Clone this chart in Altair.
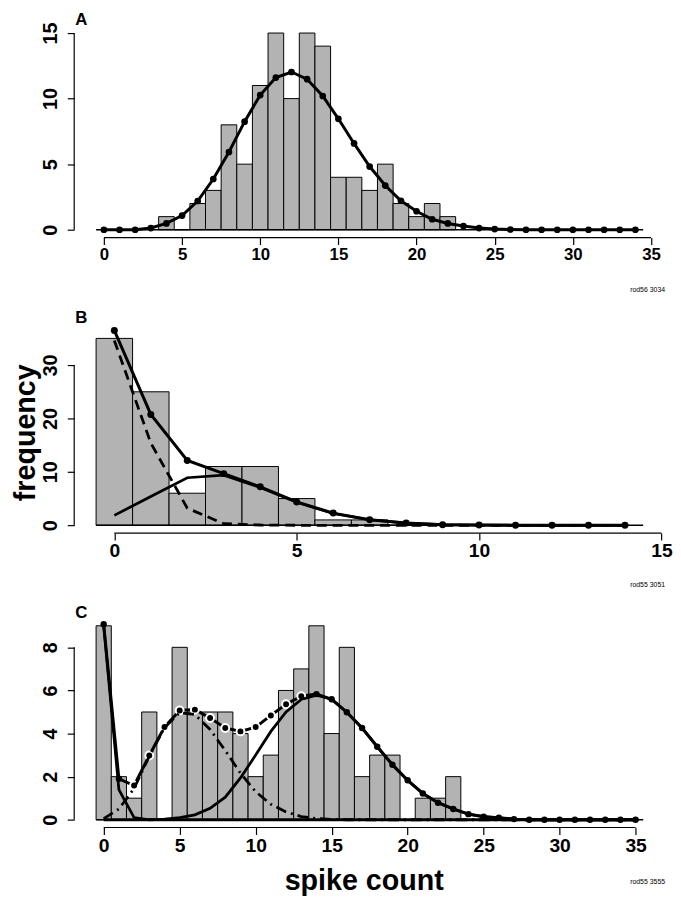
import altair as alt
import pandas as pd

FONT = "Liberation Sans"
BAR_FILL = "#b3b3b3"

# ---------------- Panel A ----------------
A_BINS = list(range(4, 23))
A_COUNTS = [1, 0, 2, 3, 8, 5, 11, 15, 10, 15, 14, 4, 4, 3, 5, 2, 1, 2, 1]
A_X = list(range(0, 35))
A_FIT = [0, 0, 0, 0.13, 0.48, 1.08, 2.19, 3.87, 5.93, 8.24,
         10.27, 11.6, 12.03, 11.48, 10.2, 8.46, 6.58, 4.82, 3.37, 2.21,
         1.41, 0.8, 0.48, 0.28, 0.13, 0.05, 0.02, 0, 0, 0,
         0, 0, 0, 0, 0]
A_XTICKS = [0, 5, 10, 15, 20, 25, 30, 35]
A_YTICKS = [0, 5, 10, 15]

# ---------------- Panel B ----------------
B_BINS = list(range(0, 9))
B_COUNTS = [35, 25, 6, 11, 11, 5, 1, 1, 0]
B_X = list(range(0, 15))
B_FIT = [36.5, 20.76, 12.14, 9.67, 7.2, 4.37, 2.28, 1.05, 0.43, 0.1, 0.03, 0, 0, 0, 0]
B_COMP1 = [34.6, 15.4, 3.2, 0.3, 0.05, 0, 0, 0, 0, 0, 0, 0, 0, 0, 0]
B_COMP2 = [1.85, 5.4, 8.9, 9.4, 7.1, 4.3, 2.2, 1.0, 0.4, 0.1, 0.03, 0, 0, 0, 0]
B_XTICKS = [0, 5, 10, 15]
B_YTICKS = [0, 10, 20, 30]

# ---------------- Panel C ----------------
C_BINS = list(range(0, 24))
C_COUNTS = [9, 2, 1, 5, 0, 8, 5, 5, 5, 4, 2, 3, 6, 7, 9, 4, 8, 2, 3, 3, 0, 1, 1, 2]
C_X = list(range(0, 36))
C_FIT = [9.07, 1.9, 1.59, 2.98, 4.3, 5.07, 5.11, 4.72, 4.26, 4.1,
         4.3, 4.84, 5.36, 5.73, 5.83, 5.59, 4.99, 4.26, 3.39, 2.55,
         1.83, 1.22, 0.79, 0.5, 0.26, 0.14, 0.09, 0.03, 0, 0,
         0, 0, 0, 0, 0, 0]
C_COMP1 = [9.0, 1.4, 0.1] + [0] * 33
C_COMP2 = [0.05, 0.5, 1.45, 2.95, 4.27, 4.97, 4.88, 4.19, 3.21, 2.16,
           1.3, 0.72, 0.36, 0.15, 0.06, 0.02] + [0] * 20
C_COMP3 = [0, 0, 0, 0, 0.03, 0.1, 0.23, 0.53, 1.05, 1.94,
           3.0, 4.1, 5.0, 5.58, 5.78, 5.59, 4.99, 4.26, 3.39, 2.55,
           1.83, 1.22, 0.79, 0.5, 0.26, 0.14, 0.09, 0.03] + [0] * 8
# points of the total fit in C drawn with a gap around them (R type="b")
C_GAP_RANGE = [2, 13]
C_XTICKS = [0, 5, 10, 15, 20, 25, 30, 35]
C_YTICKS = [0, 2, 4, 6, 8]

W = 598


def panel(letter, rod, bins, counts, xs, curves, xdom, ydom, xticks, yticks,
          h, xlab, ylab, x_title=None, y_title=None, dot_size=42, gap_range=None,
          rod_dy=53):
    xscale = alt.Scale(domain=xdom, nice=False, zero=False)
    yscale = alt.Scale(domain=ydom, nice=False, zero=False)
    xaxis_kw = dict(values=xticks, domain=False, grid=False, tickSize=7, tickColor="black",
                    tickWidth=1.2, labelFont=FONT, labelFontWeight="bold", labelFontSize=xlab,
                    labelColor="black", labelPadding=2, labelFlush=False, format="d")
    if x_title:
        xaxis_kw.update(title=x_title, titleFont=FONT, titleFontSize=29, titleFontWeight="bold",
                        titleColor="black", titlePadding=12, titleX=293, titleAlign="center")
    else:
        xaxis_kw.update(title=None)
    yaxis_kw = dict(values=yticks, domain=False, grid=False, tickSize=7, tickColor="black",
                    tickWidth=1.2, labelFont=FONT, labelFontWeight="bold", labelFontSize=ylab,
                    labelColor="black", labelPadding=7, labelAngle=270, labelAlign="center",
                    labelBaseline="bottom", labelFlush=False, format="d")
    if y_title:
        yaxis_kw.update(title=y_title, titleFont=FONT, titleFontSize=29, titleFontWeight="bold",
                        titleColor="black", titlePadding=0, titleY=111)
    else:
        yaxis_kw.update(title=None)
    xaxis = alt.Axis(**xaxis_kw)
    yaxis = alt.Axis(**yaxis_kw)

    def X(f):
        return alt.X(f, type="quantitative", scale=xscale, axis=xaxis)

    def Y(f):
        return alt.Y(f, type="quantitative", scale=yscale, axis=yaxis)

    bars_df = pd.DataFrame({"k": bins, "count": counts})
    bars = alt.Chart(bars_df).transform_calculate(
        x0="datum.k - 0.5", x1="datum.k + 0.5", zero="0"
    ).mark_bar(fill=BAR_FILL, stroke="black", strokeWidth=1).encode(
        x=X("x0"), x2="x1", y=Y("count"), y2="zero:Q"
    )

    layers = [bars]

    base_df = pd.DataFrame({"x": [min(bins[0], xs[0]) - 0.5], "x2": [xs[-1] + 0.5], "y": [0]})
    layers.append(alt.Chart(base_df).mark_rule(color="black", strokeWidth=1.3).encode(
        x=X("x"), x2="x2", y=Y("y")))

    xline_df = pd.DataFrame({"x": [xticks[0]], "x2": [xticks[-1]], "y": [ydom[0]]})
    layers.append(alt.Chart(xline_df).mark_rule(color="black", strokeWidth=1.2).encode(
        x=X("x"), x2="x2", y=Y("y")))
    yline_df = pd.DataFrame({"x": [xdom[0]], "y": [yticks[0]], "y2": [yticks[-1]]})
    layers.append(alt.Chart(yline_df).mark_rule(color="black", strokeWidth=1.2).encode(
        x=X("x"), y=Y("y"), y2="y2"))

    main_vals = curves[0][0]
    main_df = pd.DataFrame({"x": xs, "y": main_vals})
    layers.append(alt.Chart(main_df).mark_line(color="black", strokeWidth=3).encode(
        x=X("x"), y=Y("y")))
    if gap_range:
        lo, hi = gap_range
        gap_df = main_df[(main_df.x >= lo) & (main_df.x <= hi)]
        rest_df = main_df[(main_df.x < lo) | (main_df.x > hi)]
        layers.append(alt.Chart(gap_df).mark_circle(
            size=dot_size + 22, color="black", stroke="white", strokeWidth=2, opacity=1).encode(
            x=X("x"), y=Y("y")))
        layers.append(alt.Chart(rest_df).mark_circle(size=dot_size, color="black", opacity=1).encode(
            x=X("x"), y=Y("y")))
    else:
        layers.append(alt.Chart(main_df).mark_circle(size=dot_size, color="black", opacity=1).encode(
            x=X("x"), y=Y("y")))
    for vals, dash in curves[1:]:
        df = pd.DataFrame({"x": xs, "y": vals})
        kw = dict(color="black", strokeWidth=2.8)
        if dash:
            kw["strokeDash"] = dash
        layers.append(alt.Chart(df).mark_line(**kw).encode(x=X("x"), y=Y("y")))

    letter_t = alt.Chart(pd.DataFrame({"t": [letter]})).mark_text(
        align="left", baseline="alphabetic", font=FONT, fontSize=17, fontWeight="bold",
        color="black", dx=1).encode(x=alt.value(0), y=alt.value(0), text="t:N")
    rod_t = alt.Chart(pd.DataFrame({"t": [rod]})).mark_text(
        align="right", baseline="middle", font=FONT, fontSize=7, color="black").encode(
        x=alt.value(W), y=alt.value(h + rod_dy), text="t:N")
    layers += [letter_t, rod_t]

    return alt.layer(*layers).properties(width=W, height=h)


pA = panel("A", "rod56 3034", A_BINS, A_COUNTS, A_X, [(A_FIT, None)],
           [-1.9, 35.9], [-0.6, 15.6], A_XTICKS, A_YTICKS, 215, 17, 20, dot_size=46)
pB = panel("B", "rod55 3051", B_BINS, B_COUNTS, B_X,
           [(B_FIT, None), (B_COMP1, [10, 6]), (B_COMP2, None)],
           [-1.1, 15.1], [-1.46, 37.96], B_XTICKS, B_YTICKS, 213, 19.5, 20,
           y_title="frequency", dot_size=50)
pC = panel("C", "rod55 3555", C_BINS, C_COUNTS, C_X,
           [(C_FIT, None), (C_COMP1, None), (C_COMP2, [11, 5, 2, 5]), (C_COMP3, None)],
           [-1.94, 36.94], [-0.36, 9.36], C_XTICKS, C_YTICKS, 212, 19.5, 20,
           x_title="spike count", dot_size=42, gap_range=C_GAP_RANGE, rod_dy=55)

chart = alt.vconcat(pA, pB, pC, spacing=86, bounds="flush").configure_view(
    stroke=None
).properties(padding={"top": -2, "left": 4, "right": 0, "bottom": 0}, background="white")

chart.save("out.html", embed_options={"renderer": "svg", "actions": False})
